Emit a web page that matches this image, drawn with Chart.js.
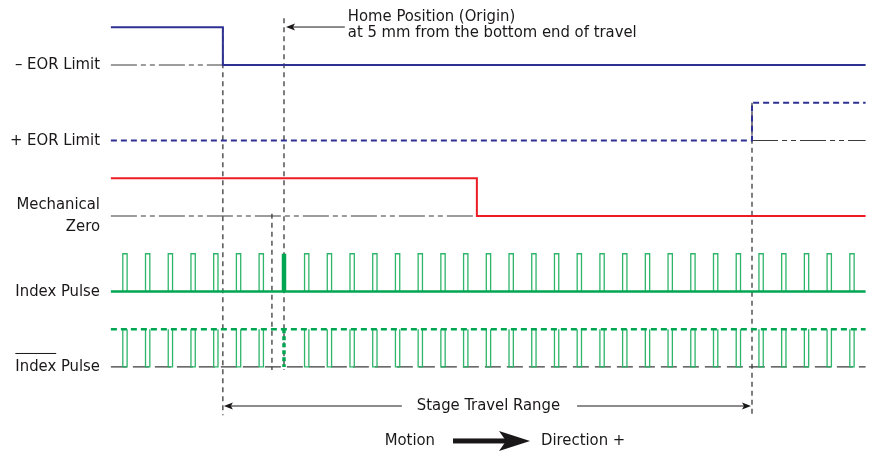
<!DOCTYPE html>
<html><head><meta charset="utf-8">
<script src="https://cdn.jsdelivr.net/npm/chart.js@4"></script>
<style>html,body{margin:0;padding:0;background:#fff;overflow:hidden}#wrap{width:874px;height:455px;position:relative}</style>
</head><body><div id="wrap"><canvas id="c"></canvas></div>
<script>
// ---- data (x in index-pulse pitches, y in signal rows) ----
const signalLabels = ['– EOR Limit', '+ EOR Limit', 'Mechanical\nZero', 'Index Pulse', 'Index Pulse'];
const rowBase = [0, -1, -2, -3, -4];
const rowHigh = [0.5, -0.5, -1.5, -2.5, -3.5];
const travelStart = -0.62, travelEnd = 32.6;
const negEorEdge = 4.31;
const posEorEdge = 27.6;
const mechEdge = 15.49;
const mechZeroMark = 6.47;
const homePos = 7;
const pulsePositions = [0,1,2,3,4,5,6,8,9,10,11,12,13,14,15,16,17,18,19,20,21,22,23,24,25,26,27,28,29,30,31,32];
const pulseWidth = 0.19;
const guideTops = [0.5, 0.62, -1.97, -0.5];
const guideXs = [negEorEdge, homePos, mechZeroMark, posEorEdge];
const guideBottoms = [-4.64, -4.04, -4.04, -4.64];
const homeTitle = ['Home Position (Origin)', 'at 5 mm from the bottom end of travel'];
const travelLabel = 'Stage Travel Range';
const motionLabels = ['Motion', 'Direction +'];

const xMin = -5.50, xMax = 32.97, yMin = -5.166, yMax = 0.861;
const FONT = '"Liberation Sans Narrow", "DejaVu Sans Condensed", Arial, sans-serif';

const BLUE = '#2e3192', RED = '#ed1c24', GREEN = '#00a651', LGREEN = '#2fb56a', GRAY = '#3a3a3a';
const dashDot = [26, 4, 5, 4, 5, 4];

function P(x, y) { return {x, y}; }
function pulses(base, top) {
  const pts = [];
  pulsePositions.forEach(p => {
    pts.push(P(p - pulseWidth/2, base), P(p - pulseWidth/2, top), P(p + pulseWidth/2, top), P(p + pulseWidth/2, base), P(p, null));
  });
  return pts;
}
const ds = [];
function add(data, o) { ds.push(Object.assign({data, showLine: true, pointRadius: 0, fill: false, borderWidth: 1, spanGaps: false, tension: 0}, o)); }

// guides
guideXs.forEach((gx, i) => add([P(gx, guideTops[i]), P(gx, guideBottoms[i])], {borderColor: '#2a2a2a', borderWidth: 1.2, borderDash: [5, 4], order: 20}));
// reference (gray) lines
add([P(travelStart, rowBase[0]), P(negEorEdge, rowBase[0])], {borderColor: GRAY, borderWidth: 1.2, borderDash: dashDot, order: 15});
add([P(posEorEdge, rowBase[1]), P(travelEnd, rowBase[1])], {borderColor: GRAY, borderWidth: 1.2, borderDash: dashDot, order: 15});
add([P(travelStart, rowBase[2]), P(mechEdge, rowBase[2])], {borderColor: GRAY, borderWidth: 1.2, borderDash: dashDot, order: 15});
add([P(travelStart, rowBase[4]), P(travelEnd, rowBase[4])], {borderColor: GRAY, borderWidth: 1.2, borderDash: [16, 6], order: 15});
// -EOR
add([P(travelStart, rowHigh[0]), P(negEorEdge, rowHigh[0]), P(negEorEdge, rowBase[0]), P(travelEnd, rowBase[0])], {borderColor: BLUE, borderWidth: 2, order: 1});
// +EOR
add([P(travelStart, rowBase[1]), P(posEorEdge, rowBase[1]), P(posEorEdge, rowHigh[1]), P(travelEnd, rowHigh[1])], {borderColor: BLUE, borderWidth: 2, borderDash: [6, 4], order: 1});
// Mechanical zero
add([P(travelStart, rowHigh[2]), P(mechEdge, rowHigh[2]), P(mechEdge, rowBase[2]), P(travelEnd, rowBase[2])], {borderColor: RED, borderWidth: 2, order: 1});
// Index pulse
add(pulses(rowBase[3], rowHigh[3]), {borderColor: LGREEN, borderWidth: 1.3, order: 2});
add([P(travelStart, rowBase[3]), P(travelEnd, rowBase[3])], {borderColor: GREEN, borderWidth: 2.5, order: 1});
add([P(homePos, rowBase[3]), P(homePos, rowHigh[3])], {borderColor: GREEN, borderWidth: 4.5, order: 1});
// /Index pulse
add(pulses(rowHigh[4], rowBase[4]), {borderColor: LGREEN, borderWidth: 1.3, order: 2});
add([P(travelStart, rowHigh[4]), P(travelEnd, rowHigh[4])], {borderColor: GREEN, borderWidth: 2.5, borderDash: [6, 4], order: 1});
add([P(homePos, rowHigh[4]), P(homePos, rowBase[4])], {borderColor: GREEN, borderWidth: 3.5, borderDash: [4, 3], order: 1});

const labelX = -1.1;
const homeTextX = 9.81, homeArrowY = 0.503, homeLineYs = [0.636, 0.424];
const travelY = -4.517, travelTextX = 16.0;
const motionY = -4.98, motionArrow = [14.44, 17.83];

const textPlugin = {
  id: 'texts',
  afterDatasetsDraw(chart) {
    const ctx = chart.ctx, xs = chart.scales.x, ys = chart.scales.y;
    const X = v => xs.getPixelForValue(v), Y = v => ys.getPixelForValue(v);
    ctx.save();
    ctx.fillStyle = '#1a1718'; ctx.strokeStyle = '#1a1718';
    ctx.font = '16.5px ' + FONT;
    ctx.textBaseline = 'middle';
    // row labels
    ctx.textAlign = 'right';
    signalLabels.forEach((lab, i) => {
      const lines = lab.split('\n');
      const cy = Y(rowBase[i]) - (i === 2 ? 11 : 0);
      lines.forEach((ln, k) => ctx.fillText(ln, X(labelX), cy + k * 22));
    });
    // overline on last "Index"
    {
      const full = ctx.measureText(signalLabels[4]).width;
      const w = ctx.measureText('Index').width;
      const x0 = X(labelX) - full, y0 = Y(rowBase[4]) - 13.5;
      ctx.lineWidth = 1; ctx.beginPath(); ctx.moveTo(x0, y0); ctx.lineTo(x0 + w, y0); ctx.stroke();
    }
    // home annotation
    ctx.textAlign = 'left';
    homeTitle.forEach((t, k) => ctx.fillText(t, X(homeTextX), Y(homeLineYs[k])));
    function arrowHead(x, y, dir) {
      ctx.beginPath(); ctx.moveTo(x, y); ctx.lineTo(x - dir * 9, y - 3.5); ctx.lineTo(x - dir * 7, y); ctx.lineTo(x - dir * 9, y + 3.5); ctx.closePath(); ctx.fill();
    }
    ctx.lineWidth = 1;
    const hx0 = X(homePos) + 2, hx1 = X(homeTextX) - 3, hy = Y(homeArrowY);
    ctx.beginPath(); ctx.moveTo(hx1, hy); ctx.lineTo(hx0 + 6, hy); ctx.stroke();
    arrowHead(hx0, hy, -1);
    // travel range
    ctx.textAlign = 'center';
    const ty = Y(travelY), tcx = X(travelTextX);
    const tw = ctx.measureText(travelLabel).width;
    ctx.fillText(travelLabel, tcx, ty);
    const ax0 = X(negEorEdge) + 1, ax1 = X(posEorEdge) - 1;
    ctx.beginPath(); ctx.moveTo(ax0 + 6, ty); ctx.lineTo(tcx - tw/2 - 15, ty); ctx.moveTo(tcx + tw/2 + 17, ty); ctx.lineTo(ax1 - 6, ty); ctx.stroke();
    arrowHead(ax0, ty, -1); arrowHead(ax1, ty, 1);
    // motion arrow
    const my = Y(motionY), m0 = X(motionArrow[0]), m1 = X(motionArrow[1]);
    ctx.fillRect(m0, my - 2.5, (m1 - m0) - 24, 5);
    ctx.beginPath(); ctx.moveTo(m1, my); ctx.lineTo(m1 - 31, my - 10); ctx.lineTo(m1 - 24, my); ctx.lineTo(m1 - 31, my + 10); ctx.closePath(); ctx.fill();
    ctx.textAlign = 'right'; ctx.fillText(motionLabels[0], m0 - 18, my);
    ctx.textAlign = 'left'; ctx.fillText(motionLabels[1], m1 + 11, my);
    ctx.restore();
  }
};

new Chart(document.getElementById('c'), {
  type: 'scatter',
  data: {datasets: ds},
  options: {
    responsive: true, maintainAspectRatio: false, animation: false,
    layout: {padding: 0},
    plugins: {legend: {display: false}, tooltip: {enabled: false}},
    scales: {
      x: {type: 'linear', min: xMin, max: xMax, display: false},
      y: {type: 'linear', min: yMin, max: yMax, display: false}
    }
  },
  plugins: [textPlugin]
});
</script></body></html>
